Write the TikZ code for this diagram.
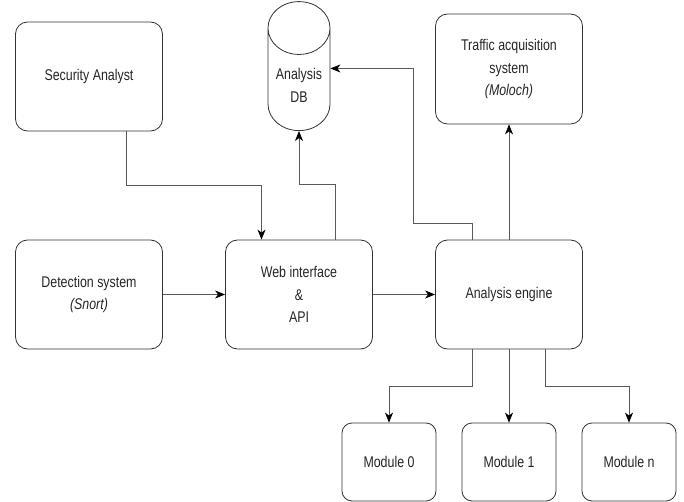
\documentclass[tikz,border=0pt]{standalone}
\usepackage{fontspec}
\setmainfont{Liberation Sans}[FakeStretch=0.8]
\usetikzlibrary{shapes.geometric,arrows.meta}

\begin{document}
\begin{tikzpicture}[node distance={210pt},
  >={Stealth[length=10pt,width=8pt,inset=3pt,black]},
  box/.style = {draw=black!80, line width=0.8pt, rounded corners=12pt, minimum width=147pt, minimum height=109pt, align=center, text=black!85, font=\fontsize{15.5pt}{22.5pt}\selectfont},
  module/.style = {box, minimum width=94pt, minimum height=78pt, rounded corners=10pt},
  store/.style = {draw=black!80, line width=0.8pt, cylinder, shape border rotate=90, aspect=1, minimum width=62pt, minimum height=129pt, align=center, text=black!85, font=\fontsize{15.5pt}{22.5pt}\selectfont},
  link/.style = {draw=black!65, line width=0.8pt}]
\useasboundingbox (0,0) rectangle (684pt,-502pt);
\node[box] (det) at (89pt,-294.5pt) {Detection system\\\textit{(Snort)}};
\node[box] (web) [right of=det] {Web interface\\\&\\API};
\node[box] (eng) [right of=web] {Analysis engine};
\node[box] (sec) [above of=det, node distance=218pt] {Security Analyst};
\node[store] (db) [above of=web, node distance=163.5pt, anchor=south] {Analysis\\DB};
\node[box] (traf) [above of=eng, node distance=225.5pt, minimum height=110pt] {Traffic acquisition\\system\\\textit{(Moloch)}};
\node[module] (mod1) [below of=eng, node distance=167.5pt] {Module 1};
\node[module] (mod0) [left of=mod1, node distance=120pt] {Module 0};
\node[module] (modn) [right of=mod1, node distance=120pt] {Module n};
% inputs of the web interface
\draw[link,->] ([xshift=37pt]sec.south) -- ++(0,-54pt) -| ([xshift=-37.5pt]web.north);
\draw[link,->] (det) -- (web);
\draw[link,->] ([xshift=36.5pt]web.north) -- ++(0,55pt) -| (db.south);
\draw[link,->] (web) -- (eng);
% outputs of the engine
\draw[link,->] ([xshift=-36.5pt]eng.north) -- ++(0,16pt) -- ++(-59pt,0) |- ([yshift=17pt]db.east);
\draw[link,->] (eng) -- (traf);
\draw[link,->] ([xshift=-36.5pt]eng.south) -- ++(0,-37pt) -| (mod0.north);
\draw[link,->] (eng) -- (mod1);
\draw[link,->] ([xshift=36.5pt]eng.south) -- ++(0,-37pt) -| (modn.north);
\end{tikzpicture}
\end{document}
